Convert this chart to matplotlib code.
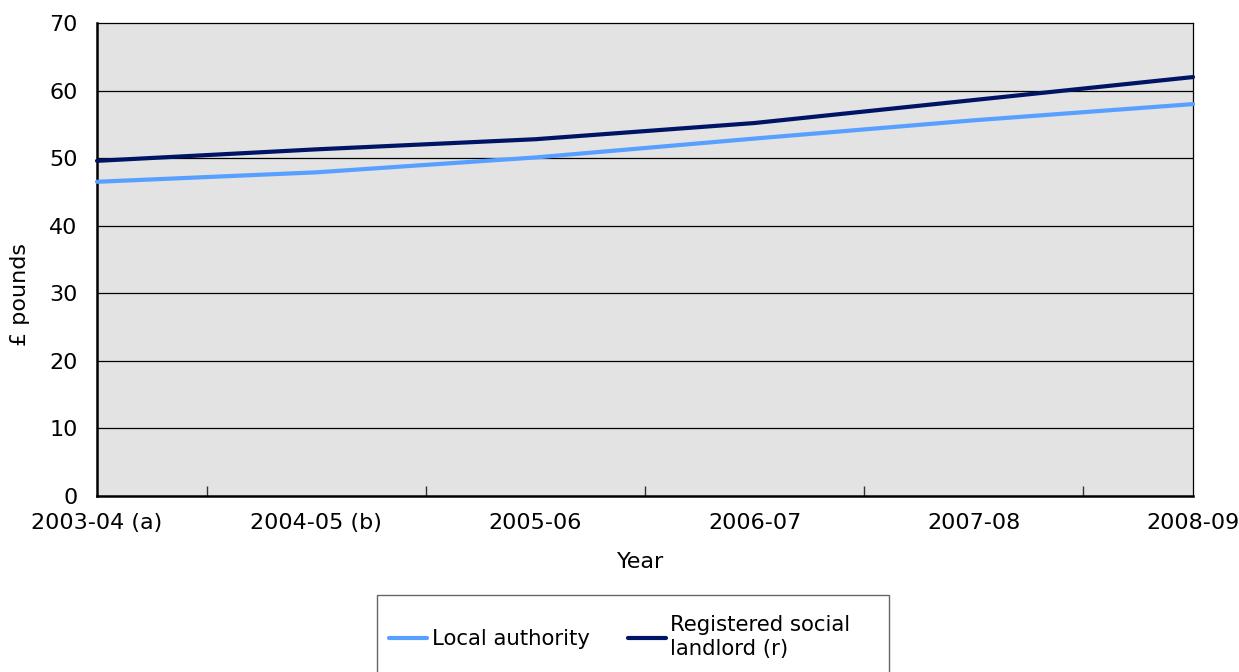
import matplotlib
matplotlib.use("Agg")
import matplotlib.pyplot as plt
from matplotlib.patches import Rectangle
from matplotlib.lines import Line2D

years = ["2003-04 (a)", "2004-05 (b)", "2005-06", "2006-07", "2007-08", "2008-09"]
local_authority = [46.5, 47.9, 50.1, 52.9, 55.6, 58.0]
registered_social_landlord = [49.6, 51.3, 52.8, 55.2, 58.6, 62.0]
y_ticks = [0, 10, 20, 30, 40, 50, 60, 70]

LA_COLOR = "#58a0ff"
RSL_COLOR = "#001466"
FS = 16
LEGEND_FS = 15.3

plt.rcParams["font.family"] = ["DejaVu Sans"]

W, H = 1239, 672
fig = plt.figure(figsize=(W / 100, H / 100), dpi=100)
ax = fig.add_axes([97 / W, 1 - 496 / H, (1193 - 97) / W, (496 - 23) / H])
ax.set_facecolor("#e3e3e3")

x = list(range(len(years)))
ax.plot(x, local_authority, color=LA_COLOR, lw=3.0, solid_capstyle="round", zorder=3, clip_on=False)
ax.plot(x, registered_social_landlord, color=RSL_COLOR, lw=3.0, solid_capstyle="round", zorder=4, clip_on=False)

ax.set_xlim(0, len(years) - 1)
ax.set_ylim(0, 70)
ax.set_yticks(y_ticks)
ax.set_xticks(x)
ax.set_xticklabels(years, fontsize=FS)
ax.set_xticks([i + 0.5 for i in range(len(years) - 1)], minor=True)
ax.tick_params(axis="x", which="major", length=0, pad=12)
ax.tick_params(axis="x", which="minor", direction="in", length=7, width=1, color="#333333")
ax.tick_params(axis="y", length=0, pad=14, labelsize=FS)

for yv in y_ticks[1:-1]:
    ax.axhline(yv, color="black", lw=0.9, zorder=1)

for side in ("left", "bottom"):
    ax.spines[side].set_linewidth(1.8)
    ax.spines[side].set_color("black")
for side in ("top", "right"):
    ax.spines[side].set_linewidth(0.9)
    ax.spines[side].set_color("black")

fig.text(20 / W, 1 - 295 / H, "£ pounds", rotation=90, ha="center", va="center", fontsize=FS)
fig.text(641 / W, 1 - 562 / H, "Year", ha="center", va="center", fontsize=FS)

# Legend box
fig.patches.append(Rectangle((377 / W, 1 - 700 / H), (889 - 377) / W, (700 - 595) / H,
                             transform=fig.transFigure, facecolor="white",
                             edgecolor="#666666", lw=1.0))
handles = [Line2D([], [], color=LA_COLOR, lw=3.0, solid_capstyle="round"),
           Line2D([], [], color=RSL_COLOR, lw=3.0, solid_capstyle="round")]
fig.legend(handles, ["Local authority", "Registered social\nlandlord (r)"],
           loc="center left", bbox_to_anchor=(389 / W, 1 - 637 / H), ncol=2,
           frameon=False, fontsize=LEGEND_FS, handlelength=1.8, handletextpad=0.2,
           columnspacing=1.8, borderpad=0, borderaxespad=0)

fig.savefig("out.png", dpi=100)
